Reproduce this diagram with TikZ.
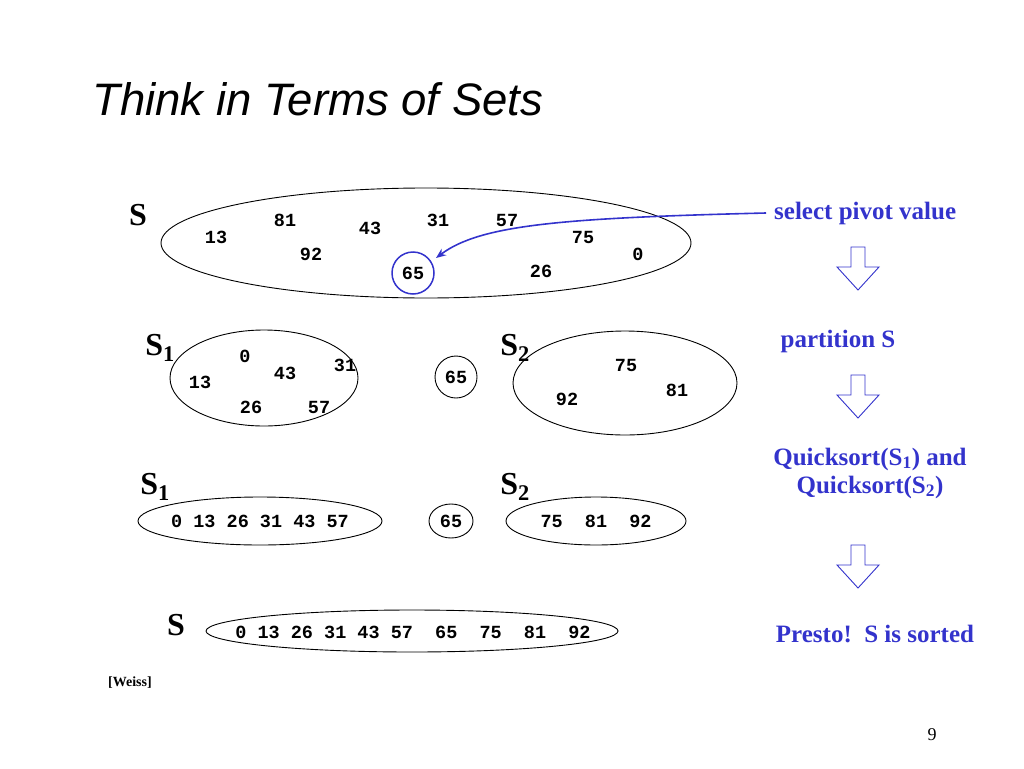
\documentclass[tikz,border=0pt]{standalone}
\usepackage{fontspec}
\setmainfont{Liberation Serif}
\setsansfont{Liberation Sans}
\setmonofont{Liberation Mono}
\usetikzlibrary{arrows.meta}
\definecolor{pblue}{RGB}{51,51,204}
\tikzset{
 num/.style={font=\ttfamily\bfseries\fontsize{18.5}{18.5}\selectfont, inner sep=0},
 big/.style={font=\bfseries\fontsize{32}{32}\selectfont, inner sep=0},
 lab/.style={font=\bfseries\fontsize{25}{28}\selectfont, text=pblue, inner sep=0, align=center},
 set/.style={draw, line width=0.9pt},
 darrow/.style={draw=pblue, line width=0.9pt, fill=white}
}
\newcommand{\downarr}[2]{%
 \draw[darrow] (#1-7,#2) -- (#1+7,#2) -- (#1+7,#2+20) -- (#1+21,#2+20) -- (#1,#2+43) -- (#1-21,#2+20) -- (#1-7,#2+20) -- cycle;}
\begin{document}
\begin{tikzpicture}[x=1pt,y=-1pt]
\useasboundingbox (0,0) rectangle (1024,768);
\node[anchor=base west, font=\sffamily\itshape\fontsize{45.5}{45.5}\selectfont, inner sep=0] (title) at (92,115) {Think in Terms of Sets};
% row 1
\node[big] (s0) at (138,215) {S};
\draw[set] (426,243) ellipse [x radius=265, y radius=55];
\node[num] (a81) at (285,220) {81};
\node[num] (a43) at (370,228) {43};
\node[num] (a31) at (438,220) {31};
\node[num] (a57) at (507,220) {57};
\node[num] (a13) at (216,237) {13};
\node[num] (a75) at (583,237) {75};
\node[num] (a92) at (311,254) {92};
\node[num] (a0) at (638,254) {0};
\node[num] (a26) at (541,271) {26};
\node[num] (a65) at (413,273) {65};
\draw[pblue, line width=1.5pt] (413,273) circle (21);
\node[lab, anchor=west] (sel) at (774,213) {select pivot value};
\draw[pblue, line width=1.6pt, -{Stealth[length=10pt,width=8pt]}] ([xshift=-8pt]sel.west) .. controls (560,218) and (480,225) .. (436,258);
\downarr{858}{247}
% row 2
\node[lab] (part) at (838,341) {partition S};
\node[big] (s1) at (160,348) {S\textsubscript{1}};
\node[big] (s2) at (515,348) {S\textsubscript{2}};
\draw[set] (264,378) ellipse [x radius=94, y radius=48];
\node[num] (b0) at (245,356) {0};
\node[num] (b43) at (285,373) {43};
\node[num] (b31) at (345,365) {31};
\node[num] (b13) at (200,382) {13};
\node[num] (b26) at (251,407) {26};
\node[num] (b57) at (319,407) {57};
\node[num] (b65) at (456,377) {65};
\draw[set] (456,377) circle (21);
\draw[set] (625,383) ellipse [x radius=112, y radius=52];
\node[num] (b75) at (626,365) {75};
\node[num] (b81) at (677,390) {81};
\node[num] (b92) at (567,399) {92};
\downarr{858}{375}
% row 3
\node[lab] (qs) at (870,473) {Quicksort(S\textsubscript{1}) and\\Quicksort(S\textsubscript{2})};
\node[big] (s1b) at (155,487) {S\textsubscript{1}};
\node[big] (s2b) at (515,487) {S\textsubscript{2}};
\draw[set] (260,521) ellipse [x radius=122, y radius=24];
\node[num] (c1) at (260,521) {0 13 26 31 43 57};
\draw[set] (451,521) ellipse [x radius=22, y radius=17];
\node[num] (c65) at (451,521) {65};
\draw[set] (596,521) ellipse [x radius=90, y radius=24];
\node[num] (c2) at (596,521) {75\ \ 81\ \ 92};
\downarr{858}{545}
% row 4
\node[big] (s3) at (176,625) {S};
\draw[set] (412,631) ellipse [x radius=206, y radius=21];
\node[num] (d) at (413,632) {0 13 26 31 43 57\ \ 65\ \ 75\ \ 81\ \ 92};
\node[lab] (presto) at (875,634) {Presto!\ \ S is sorted};
\node[font=\bfseries\fontsize{14}{14}\selectfont, inner sep=0] (weiss) at (130,683) {[Weiss]};
\node[font=\fontsize{18}{18}\selectfont, inner sep=0] (pg) at (932,735) {9};
\end{tikzpicture}
\end{document}
